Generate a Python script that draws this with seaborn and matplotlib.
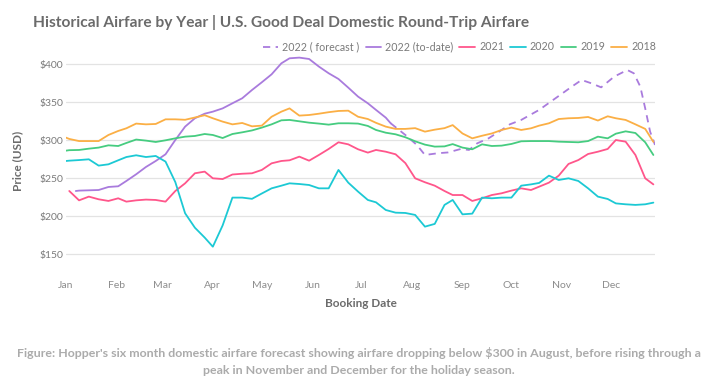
import matplotlib
matplotlib.use('Agg')
import matplotlib.pyplot as plt
import seaborn as sns
import pandas as pd
from matplotlib.ticker import FuncFormatter

# eixo x = dia do ano da data de compra, preço em USD
meses = ['Jan', 'Feb', 'Mar', 'Apr', 'May', 'Jun', 'Jul', 'Aug', 'Sep', 'Oct', 'Nov', 'Dec']
inicio_mes = [0, 31, 59, 90, 120, 151, 181, 212, 243, 273, 304, 334]

dias = [0, 2, 8, 14, 20, 26, 32, 37, 43, 49, 55, 61, 67, 73, 79, 85,
        90, 96, 102, 108, 114, 120, 126, 132, 137, 143, 149, 155, 161, 167, 173, 179,
        185, 190, 196, 202, 208, 214, 220, 226, 232, 237, 243, 249, 255, 261, 267,
        273, 279, 285, 290, 296, 302, 308, 314, 320, 326, 332, 337, 343, 349, 355, 360]

preco_2018 = [303.5, 301.8, 299, 299, 299, 307, 312.3, 315.8, 322, 321, 321.5, 327.6, 327.6, 327, 330, 333,
              329, 324.6, 321, 322.8, 318.4, 319.3, 331, 337.7, 342, 332.5, 333.3, 335, 337, 338.6, 339, 331,
              328, 323, 318, 315, 315, 316, 311.4, 314, 316, 320, 309, 302.6, 306, 309, 313.6,
              316.7, 313.6, 315.8, 319.3, 322.4, 328, 329, 329.4, 330.7, 326, 331.6, 329, 326.8, 321, 315, 298]

preco_2019 = [286.4, 287, 287.3, 289, 290.4, 293.4, 292.5, 296.5, 301, 299.6, 297.8, 300, 302.6, 304.8, 305.7, 308.3,
              307, 303, 308.3, 310.5, 313, 316.7, 321, 326.3, 326.8, 325, 323.2, 322, 320.6, 322.4, 322.4, 322,
              318.9, 313.6, 310, 307.9, 304, 298.7, 294.3, 291.7, 292, 295, 290.4, 288.2, 294.7, 292.5, 293,
              295.2, 298.7, 299, 299, 299, 298.2, 297.8, 297.4, 299, 304.8, 302.6, 308.7, 311.8, 309.6, 297.4, 280.7]

preco_2020 = [272.8, 273.2, 274, 275, 266.7, 268.4, 273.7, 278, 280.3, 278, 279.4, 272, 245, 204, 185, 172,
              160, 188, 224.6, 224.6, 223, 230, 236.8, 240.3, 243.4, 242.5, 241.2, 236.8, 236.8, 261, 244.3, 232.5,
              221.5, 218.4, 208.3, 204.8, 204.4, 201.8, 186.4, 190, 215, 221.5, 202.6, 203.5, 224.6, 223.7, 224.6,
              224.6, 240.3, 242, 243.9, 253.5, 247.8, 250, 246.5, 236.8, 225.9, 222.8, 217, 215.8, 215, 215.8, 218]

dias_2021 = dias[1:]
preco_2021 = [233.3, 221, 225.9, 222.4, 220.2, 223.7, 219.3, 221, 222, 221.5, 219.3, 233.3, 243.4, 256.6, 258.8,
              250, 249, 255, 256, 256.6, 261, 269.7, 272.8, 273.7, 278.5, 273.2, 280.7, 288.6, 297.4, 294.7, 288.2,
              283.8, 287.3, 285, 281.6, 270, 250, 244.8, 240.3, 233.3, 228, 228, 220.2, 223.7, 228, 230.3,
              233.8, 236.8, 234.6, 239, 244.3, 253.5, 268.9, 274, 282, 285, 288.6, 300.4, 298.2, 280.7, 250, 242]

dias_2022 = [6, 8, 14, 20, 26, 32, 37, 43, 49, 55, 61, 67, 73, 79, 85,
             90, 96, 102, 108, 114, 120, 126, 132, 137, 143, 149, 155, 161, 167, 173, 179,
             185, 190, 196, 199]
preco_2022 = [233.3, 233.8, 234.2, 234.6, 238.6, 239.5, 246.5, 255.3, 264.9, 272.8, 281.6, 300.4, 318, 329, 335,
              337.7, 342, 348.7, 355.3, 366.2, 376.3, 386.8, 401.3, 407.9, 408.8, 407, 397, 388.2, 380.7, 369.3, 357.5,
              348.7, 340, 329.8, 322.4]

dias_prev = [199, 208, 215, 220, 228, 234, 242, 247, 252, 259, 267, 272, 279, 290,
             300, 310, 316, 322, 328, 336, 344, 348, 352, 355, 358, 361]
preco_prev = [322.4, 307, 294, 280.7, 283, 284, 288.6, 287.3, 296, 302.6, 313.6, 321, 326.8, 340,
              355.3, 370.6, 379.4, 375, 369.7, 383.8, 392.5, 388.2, 370.6, 342, 311.4, 293.9]

series = [
    ('2022 ( forecast )', dias_prev, preco_prev, '#A97BDD', (0, (4, 3))),
    ('2022 (to-date)', dias_2022, preco_2022, '#A97BDD', '-'),
    ('2021', dias_2021, preco_2021, '#FF568B', '-'),
    ('2020', dias, preco_2020, '#1CC9D4', '-'),
    ('2019', dias, preco_2019, '#46CC80', '-'),
    ('2018', dias, preco_2018, '#FBAF45', '-'),
]

sns.set_theme(style="white")
plt.rcParams['font.family'] = ['Lato', 'DejaVu Sans']

cinza = '#6b6b6b'
fig = plt.figure(figsize=(7.16, 3.87), dpi=100)
ax = fig.add_axes([66 / 716, 0.3036, 589 / 716, 0.5597])

for nome, x, y, cor, estilo in series:
    df = pd.DataFrame({'dia': x, 'preco': y})
    sns.lineplot(data=df, x='dia', y='preco', ax=ax, color=cor, linewidth=1.3,
                 linestyle=estilo, label=nome, sort=False)

ax.set_xlim(0, 361)
ax.set_ylim(130, 415)
ax.set_yticks([150, 200, 250, 300, 350, 400])
ax.yaxis.set_major_formatter(FuncFormatter(lambda v, p: f'${v:.0f}'))
ax.set_xticks(inicio_mes)
ax.set_xticklabels(meses)
ax.grid(axis='y', color='#e3e3e3', linewidth=0.9)
ax.grid(axis='x', visible=False)
for s in ax.spines.values():
    s.set_visible(False)
ax.tick_params(axis='y', length=0, labelsize=7.5, labelcolor='#7a7a7a', pad=2)
ax.tick_params(axis='x', length=0, labelsize=7.5, labelcolor='#8c8c8c', pad=8)

ax.set_xlabel('Booking Date', fontsize=8.5, fontweight='bold', color=cinza, labelpad=6)
ax.set_ylabel('Price (USD)', fontsize=8.5, fontweight='bold', color=cinza)
ax.yaxis.set_label_coords(-0.073, 0.5)

handles, labels = ax.get_legend_handles_labels()
ax.legend(handles, labels, loc='center right', bbox_to_anchor=(656 / 716, 1 - 47 / 387),
          bbox_transform=fig.transFigure, ncol=6, frameon=False, fontsize=7.7,
          labelcolor='#7a7a7a', handlelength=1.45, handletextpad=0.4, columnspacing=0.55,
          borderaxespad=0, borderpad=0)

fig.text(33 / 716, 1 - 22 / 387, 'Historical Airfare by Year | U.S. Good Deal Domestic Round-Trip Airfare',
         fontsize=11.2, fontweight='bold', color=cinza, va='center', ha='left')

fig.text(359 / 716, 1 - 353 / 387,
         "Figure: Hopper's six month domestic airfare forecast showing airfare dropping below $300 in August, before rising through a",
         fontsize=8.9, fontweight='bold', color='#ababab', ha='center', va='center')
fig.text(359 / 716, 1 - 371 / 387, 'peak in November and December for the holiday season.',
         fontsize=8.9, fontweight='bold', color='#ababab', ha='center', va='center')

fig.savefig('out.png', dpi=100)
